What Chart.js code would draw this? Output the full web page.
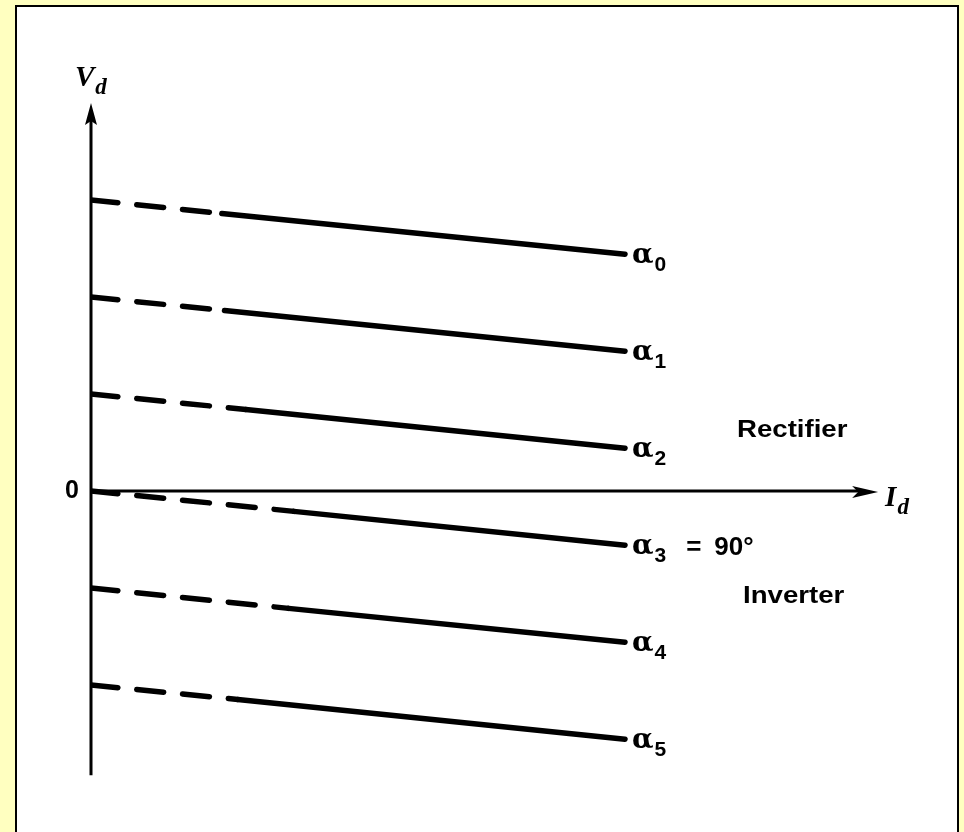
<!DOCTYPE html>
<html>
<head>
<meta charset="utf-8">
<script src="https://cdn.jsdelivr.net/npm/chart.js@4"></script>
<style>
  html, body { margin: 0; padding: 0; background: #ffffc0; overflow: hidden; }
  #frame { position: absolute; left: 15px; top: 5px; width: 940px; height: 840px;
           background: #fff; border: 2px solid #000; }
  #chart { position: absolute; left: 0; top: 0; }
</style>
</head>
<body>
<div id="frame"></div>
<canvas id="chart" width="964" height="832"></canvas>
<script>
// curve subscripts, alpha0 .. alpha5
var curveSubs = ['0', '1', '2', '3', '4', '5'];
// Id values: start, end of dashed part, end of line
var currentPts = [
    [0, 0.245, 1],
    [0, 0.25, 1],
    [0, 0.29, 1],
    [0, 0.38, 1],
    [0, 0.37, 1],
    [0, 0.275, 1]
];
// Vd values at the same points
var voltagePts = [
    [3.0, 2.86, 2.44],
    [2.0, 1.86, 1.44],
    [1.0, 0.84, 0.44],
    [0.0, -0.21, -0.56],
    [-1.0, -1.21, -1.56],
    [-2.0, -2.15, -2.56]
];
var xRange = [0, 1.5];
var yRange = [-3, 4];
var yAxisEnd = -2.93;
var xAxisEnd = 1.474;

var datasets = curveSubs.map(function (s, i) {
    return {
        label: 'α' + s,
        data: currentPts[i].map(function (x, j) { return { x: x, y: voltagePts[i][j] }; }),
        showLine: true,
        borderColor: '#000',
        borderWidth: 5.5,
        borderCapStyle: 'round',
        pointRadius: 0,
        segment: {
            borderDash: function (ctx) { return ctx.p0DataIndex === 0 ? [27, 19] : undefined; }
        }
    };
});

function subText(ctx, main, sub, x, y, mainFont, subFont, drop) {
    ctx.font = mainFont;
    ctx.fillText(main, x, y);
    var w = ctx.measureText(main).width;
    ctx.font = subFont;
    ctx.fillText(sub, x + w + 1, y + drop);
    return x + w + 1 + ctx.measureText(sub).width;
}

function stretched(ctx, text, x, y, font, sx) {
    ctx.save();
    ctx.font = font;
    ctx.translate(x, y);
    ctx.scale(sx, 1);
    ctx.fillText(text, 0, 0);
    ctx.restore();
}

var axesPlugin = {
    id: 'axesPlugin',
    afterDatasetsDraw: function (chart) {
        var ctx = chart.ctx;
        var xs = chart.scales.x, ys = chart.scales.y;
        var x0 = xs.getPixelForValue(0), y0 = ys.getPixelForValue(0);
        var yTop = ys.getPixelForValue(yRange[1]);
        var yBot = ys.getPixelForValue(yAxisEnd);
        var xEnd = xs.getPixelForValue(xAxisEnd);
        ctx.save();
        ctx.strokeStyle = '#000';
        ctx.fillStyle = '#000';
        ctx.lineWidth = 3;
        // vertical axis
        ctx.beginPath();
        ctx.moveTo(x0, yBot);
        ctx.lineTo(x0, yTop + 15);
        ctx.stroke();
        ctx.beginPath();
        ctx.moveTo(x0, yTop);
        ctx.lineTo(x0 - 6, yTop + 22);
        ctx.lineTo(x0, yTop + 18);
        ctx.lineTo(x0 + 6, yTop + 22);
        ctx.closePath();
        ctx.fill();
        // horizontal axis
        ctx.beginPath();
        ctx.moveTo(x0, y0);
        ctx.lineTo(xEnd - 15, y0);
        ctx.stroke();
        ctx.beginPath();
        ctx.moveTo(xEnd, y0 + 1);
        ctx.lineTo(xEnd - 26, y0 - 5);
        ctx.lineTo(xEnd - 20, y0 + 1);
        ctx.lineTo(xEnd - 26, y0 + 7);
        ctx.closePath();
        ctx.fill();

        // axis titles
        ctx.textBaseline = 'alphabetic';
        subText(ctx, 'V', 'd', x0 - 16, yTop - 17, 'bold italic 29px "Liberation Serif"',
            'bold italic 23px "Liberation Serif"', 8);
        subText(ctx, 'I', 'd', xEnd + 7, y0 + 15, 'bold italic 29px "Liberation Serif"',
            'bold italic 23px "Liberation Serif"', 8);
        ctx.font = 'bold 25px "Liberation Sans"';
        ctx.textAlign = 'right';
        ctx.textBaseline = 'middle';
        ctx.fillText('0', x0 - 12, y0);
        ctx.textAlign = 'left';
        ctx.textBaseline = 'alphabetic';

        // curve labels
        chart.data.datasets.forEach(function (ds, i) {
            var p = ds.data[ds.data.length - 1];
            var px = xs.getPixelForValue(p.x) + 7;
            var py = ys.getPixelForValue(p.y) + 9;
            var endX = subText(ctx, 'α', curveSubs[i], px, py, 'bold 28px "DejaVu Serif"',
                'bold 21px "Liberation Sans"', 8);
            if (i === 3) {
                ctx.font = 'bold 26px "Liberation Sans"';
                ctx.fillText('=', endX + 20, py + 1);
                ctx.fillText('90°', endX + 48, py + 1);
            }
        });

        stretched(ctx, 'Rectifier', 737, 437, 'bold 24px "Liberation Sans"', 1.15);
        stretched(ctx, 'Inverter', 743, 603, 'bold 24px "Liberation Sans"', 1.15);
        ctx.restore();
    }
};

var ctx1 = document.getElementById('chart').getContext('2d');
var chart1 = new Chart(ctx1, {
    type: 'scatter',
    data: { datasets: datasets },
    options: {
        responsive: false,
        animation: false,
        layout: { padding: { left: 91, right: 72, top: 103, bottom: 50 } },
        plugins: { legend: { display: false }, tooltip: { enabled: false } },
        scales: {
            x: { type: 'linear', display: false, min: xRange[0], max: xRange[1] },
            y: { type: 'linear', display: false, min: yRange[0], max: yRange[1] }
        }
    },
    plugins: [axesPlugin]
});
</script>
</body>
</html>
